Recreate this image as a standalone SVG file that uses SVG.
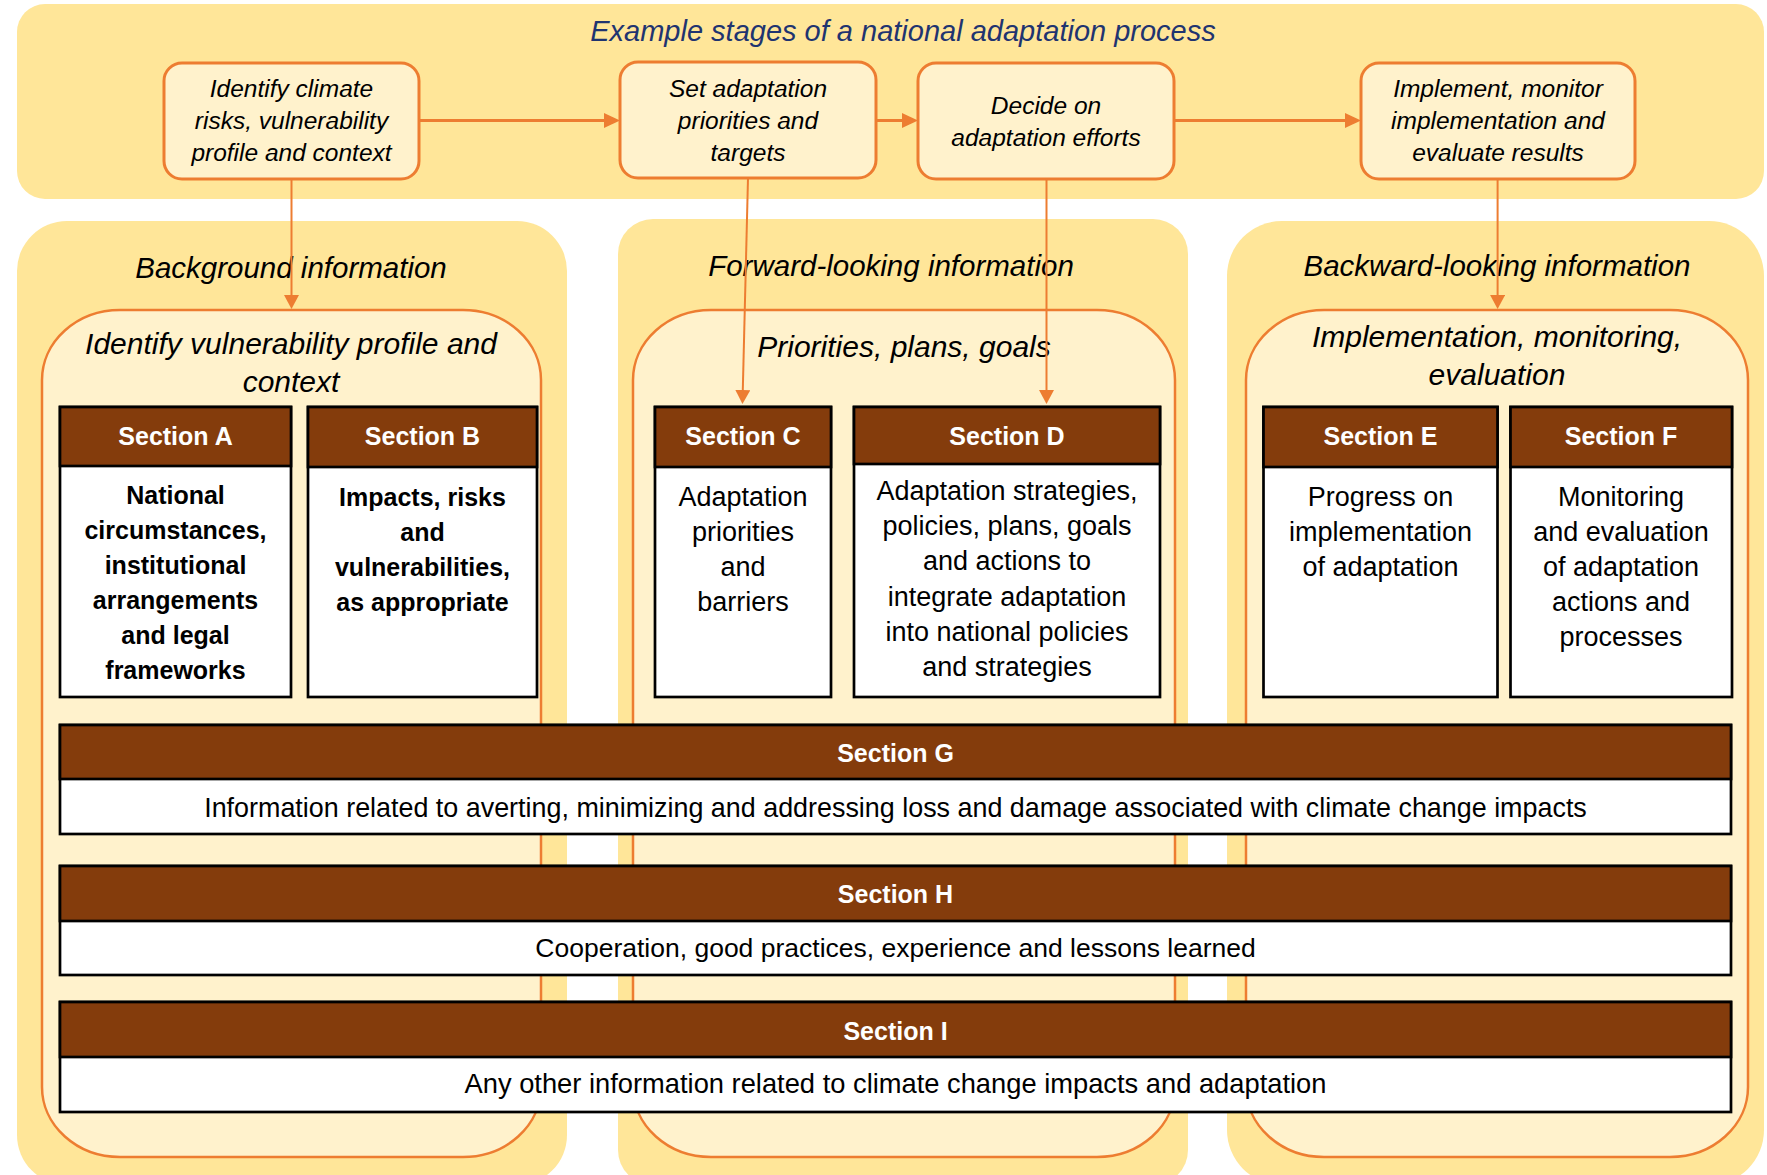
<svg xmlns="http://www.w3.org/2000/svg" width="1767" height="1175" viewBox="0 0 1767 1175">
<defs>
<style>
.band{fill:#FFE699}
.inner{fill:#FFF2CC;stroke:#ED7D31;stroke-width:2.5}
.stage{fill:#FFF2CC;stroke:#ED7D31;stroke-width:3}
.hdr{fill:#843C0C;stroke:#000;stroke-width:2.7}
.body{fill:#FFFFFF;stroke:#000;stroke-width:2.7}
text{font-family:"Liberation Sans",Arial,sans-serif;text-anchor:middle;fill:#000}
.title{font-size:29px;font-style:italic;fill:#1F3470}
.st{font-size:24.5px;font-style:italic}
.pt{font-size:29.5px;font-style:italic}
.it{font-size:30px;font-style:italic}
.ht{font-size:25px;font-weight:bold;fill:#FFFFFF}
.bb{font-size:25px;font-weight:bold}
.br{font-size:27px}
.bar{font-size:26.8px}
.conH{fill:none;stroke:#ED7D31;stroke-width:3}
.conV{fill:none;stroke:#ED7D31;stroke-width:2}
</style>
<marker id="arrH" viewBox="0 0 16 15" refX="6" refY="7.5" markerWidth="16" markerHeight="15" markerUnits="userSpaceOnUse" orient="auto">
<path d="M0,0 L16,7.5 L0,15 z" fill="#ED7D31"/>
</marker>
<marker id="arrV" viewBox="0 0 14 15" refX="4" refY="7.5" markerWidth="14" markerHeight="15" markerUnits="userSpaceOnUse" orient="auto">
<path d="M0,0 L14,7.5 L0,15 z" fill="#ED7D31"/>
</marker>
</defs>

<g id="stages-band">
<rect class="band" x="17" y="4" width="1747" height="195" rx="28"/>
<text class="title" x="903" y="41">Example stages of a national adaptation process</text>
</g>

<g id="background-panel">
<rect class="band" x="17" y="221" width="550" height="964" rx="50"/>
<text class="pt" x="291" y="278">Background information</text>
</g>
<g id="forward-panel">
<rect class="band" x="618" y="219" width="570" height="966" rx="35"/>
<text class="pt" x="891" y="276">Forward-looking information</text>
</g>
<g id="backward-panel">
<rect class="band" x="1227" y="221" width="537" height="964" rx="55"/>
<text class="pt" x="1497" y="276">Backward-looking information</text>
</g>

<g id="identify-panel">
<rect class="inner" x="42" y="310" width="499" height="847" rx="78" ry="70"/>
<text class="it" x="291" y="354">Identify vulnerability profile and</text>
<text class="it" x="291" y="392">context</text>
</g>
<g id="priorities-panel">
<rect class="inner" x="633" y="310" width="542" height="847" rx="78" ry="70"/>
<text class="it" x="904" y="357">Priorities, plans, goals</text>
</g>
<g id="implementation-panel">
<rect class="inner" x="1246" y="310" width="502" height="847" rx="78" ry="70"/>
<text class="it" x="1497" y="347">Implementation, monitoring,</text>
<text class="it" x="1497" y="385">evaluation</text>
</g>

<g id="section-a">
<rect class="body" x="60" y="407" width="231" height="290"/>
<rect class="hdr" x="60" y="407" width="231" height="59"/>
<text class="ht" x="175.5" y="445">Section A</text>
<text class="bb" x="175.5" y="504">National</text>
<text class="bb" x="175.5" y="539">circumstances,</text>
<text class="bb" x="175.5" y="574">institutional</text>
<text class="bb" x="175.5" y="609">arrangements</text>
<text class="bb" x="175.5" y="644">and legal</text>
<text class="bb" x="175.5" y="679">frameworks</text>
</g>
<g id="section-b">
<rect class="body" x="308" y="407" width="229" height="290"/>
<rect class="hdr" x="308" y="407" width="229" height="60"/>
<text class="ht" x="422.5" y="445">Section B</text>
<text class="bb" x="422.5" y="506">Impacts, risks</text>
<text class="bb" x="422.5" y="541">and</text>
<text class="bb" x="422.5" y="576">vulnerabilities,</text>
<text class="bb" x="422.5" y="611">as appropriate</text>
</g>
<g id="section-c">
<rect class="body" x="655" y="407" width="176" height="290"/>
<rect class="hdr" x="655" y="407" width="176" height="60"/>
<text class="ht" x="743" y="445">Section C</text>
<text class="br" x="743" y="506">Adaptation</text>
<text class="br" x="743" y="541">priorities</text>
<text class="br" x="743" y="576">and</text>
<text class="br" x="743" y="611">barriers</text>
</g>
<g id="section-d">
<rect class="body" x="854" y="407" width="306" height="290"/>
<rect class="hdr" x="854" y="407" width="306" height="57"/>
<text class="ht" x="1007" y="445">Section D</text>
<text class="br" x="1007" y="500">Adaptation strategies,</text>
<text class="br" x="1007" y="535">policies, plans, goals</text>
<text class="br" x="1007" y="570">and actions to</text>
<text class="br" x="1007" y="606">integrate adaptation</text>
<text class="br" x="1007" y="641">into national policies</text>
<text class="br" x="1007" y="676">and strategies</text>
</g>
<g id="section-e">
<rect class="body" x="1263.5" y="407" width="234" height="290"/>
<rect class="hdr" x="1263.5" y="407" width="234" height="60"/>
<text class="ht" x="1380.5" y="445">Section E</text>
<text class="br" x="1380.5" y="506">Progress on</text>
<text class="br" x="1380.5" y="541">implementation</text>
<text class="br" x="1380.5" y="576">of adaptation</text>
</g>
<g id="section-f">
<rect class="body" x="1510.5" y="407" width="221.5" height="290"/>
<rect class="hdr" x="1510.5" y="407" width="221.5" height="60"/>
<text class="ht" x="1621" y="445">Section F</text>
<text class="br" x="1621" y="506">Monitoring</text>
<text class="br" x="1621" y="541">and evaluation</text>
<text class="br" x="1621" y="576">of adaptation</text>
<text class="br" x="1621" y="611">actions and</text>
<text class="br" x="1621" y="646">processes</text>
</g>

<g id="section-g">
<rect class="body" x="60" y="725" width="1671" height="109"/>
<rect class="hdr" x="60" y="725" width="1671" height="54"/>
<text class="ht" x="895.5" y="762">Section G</text>
<text class="bar" x="895.5" y="817" style="font-size:26.9px">Information related to averting, minimizing and addressing loss and damage associated with climate change impacts</text>
</g>
<g id="section-h">
<rect class="body" x="60" y="866" width="1671" height="109"/>
<rect class="hdr" x="60" y="866" width="1671" height="55"/>
<text class="ht" x="895.5" y="903">Section H</text>
<text class="bar" x="895.5" y="957" style="font-size:26.5px">Cooperation, good practices, experience and lessons learned</text>
</g>
<g id="section-i">
<rect class="body" x="60" y="1002" width="1671" height="110"/>
<rect class="hdr" x="60" y="1002" width="1671" height="55"/>
<text class="ht" x="895.5" y="1040">Section I</text>
<text class="bar" x="895.5" y="1093" style="font-size:27.3px">Any other information related to climate change impacts and adaptation</text>
</g>

<g id="stage-identify">
<rect class="stage" x="164" y="63" width="255" height="116" rx="18"/>
<text class="st" x="291.5" y="97">Identify climate</text>
<text class="st" x="291.5" y="129">risks, vulnerability</text>
<text class="st" x="291.5" y="161">profile and context</text>
</g>
<g id="stage-set">
<rect class="stage" x="620" y="62" width="256" height="116" rx="18"/>
<text class="st" x="748" y="97">Set adaptation</text>
<text class="st" x="748" y="129">priorities and</text>
<text class="st" x="748" y="161">targets</text>
</g>
<g id="stage-decide">
<rect class="stage" x="918" y="63" width="256" height="116" rx="18"/>
<text class="st" x="1046" y="114">Decide on</text>
<text class="st" x="1046" y="146">adaptation efforts</text>
</g>
<g id="stage-implement">
<rect class="stage" x="1361" y="63" width="274" height="116" rx="18"/>
<text class="st" x="1498" y="97">Implement, monitor</text>
<text class="st" x="1498" y="129">implementation and</text>
<text class="st" x="1498" y="161">evaluate results</text>
</g>

<g id="connectors">
<line class="conH" x1="419" y1="120.5" x2="610" y2="120.5" marker-end="url(#arrH)"/>
<line class="conH" x1="876" y1="120.5" x2="908" y2="120.5" marker-end="url(#arrH)"/>
<line class="conH" x1="1174" y1="120.5" x2="1351" y2="120.5" marker-end="url(#arrH)"/>
<line class="conV" x1="291.5" y1="179" x2="291.5" y2="299" marker-end="url(#arrV)"/>
<line class="conV" x1="748" y1="178" x2="742.7" y2="394" marker-end="url(#arrV)"/>
<line class="conV" x1="1046.5" y1="179" x2="1046.5" y2="394" marker-end="url(#arrV)"/>
<line class="conV" x1="1497.6" y1="179" x2="1497.6" y2="299" marker-end="url(#arrV)"/>
</g>
</svg>
